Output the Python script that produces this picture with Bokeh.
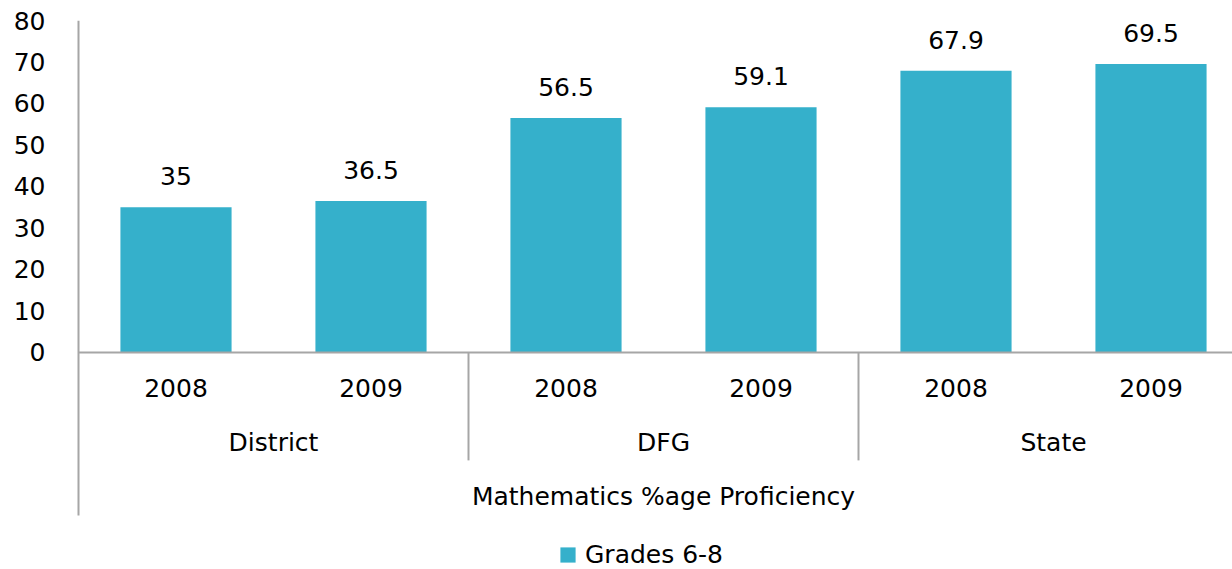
from bokeh.plotting import figure
from bokeh.models import Range1d, FixedTicker, Legend, LegendItem
from bokeh.embed import file_html
from bokeh.resources import INLINE
from bokeh.core.properties import value

# ---- data ----
groups = ["District", "DFG", "State"]
years = ["2008", "2009"]
proficiency = [35, 36.5, 56.5, 59.1, 67.9, 69.5]
axis_title = "Mathematics %age Proficiency"
series_name = "Grades 6-8"
y_ticks = [0, 10, 20, 30, 40, 50, 60, 70, 80]

# ---- style ----
FONT = "DejaVu Sans"
FS = "25px"
BAR = "#35B0CB"
LINE = "#A6A6A6"
Y_BOTTOM = -52.29  # frame extends below the axis for the category rows and legend

ny = len(years)
xs = [gi * ny + yi + 0.5 for gi in range(len(groups)) for yi in range(ny)]
year_labels = [y for g in groups for y in years]
group_x = [gi * ny + ny / 2 for gi in range(len(groups))]
sep_x = [gi * ny for gi in range(1, len(groups))]
total = len(groups) * ny

p = figure(width=1232, height=569, output_backend="svg", toolbar_location=None,
           x_range=Range1d(-8 / 195, 1154 / 195), y_range=Range1d(Y_BOTTOM, 80),
           x_axis_location=None, min_border_left=70, min_border_right=0,
           min_border_top=20, min_border_bottom=0)
p.outline_line_color = None
p.grid.visible = False
p.background_fill_color = "white"

ax = p.yaxis[0]
ax.ticker = FixedTicker(ticks=y_ticks)
ax.axis_line_color = None
ax.major_tick_line_color = None
ax.minor_tick_line_color = None
ax.major_tick_out = 0
ax.major_tick_in = 0
ax.major_label_standoff = 25
ax.major_label_text_font = FONT
ax.major_label_text_font_size = FS
ax.major_label_text_color = "black"

bars = p.vbar(x=xs, top=proficiency, bottom=0, width=0.57, fill_color=BAR, line_color=None)

# value axis line (extends down through the category rows)
p.segment(x0=[0], y0=[y_ticks[-1]], x1=[0], y1=[-39.28], line_color=LINE, line_width=2)
# category axis baseline
p.segment(x0=[0], y0=[0], x1=[total], y1=[0], line_color=LINE, line_width=2)
# group separators
p.segment(x0=sep_x, y0=0, x1=sep_x, y1=-26, line_color=LINE, line_width=2)

txt = dict(text_font=value(FONT), text_font_size=FS, text_color="black",
           text_align="center", text_baseline="alphabetic")
p.text(x=xs, y=proficiency, text=[f"{v:g}" for v in proficiency], y_offset=-31, **txt)
p.text(x=xs, y=[-8.45] * len(xs), text=year_labels, **txt)
p.text(x=group_x, y=[-21.65] * len(group_x), text=groups, **txt)
p.text(x=[total / 2], y=[-34.65], text=[axis_title], **txt)

legend = Legend(items=[LegendItem(label=series_name, renderers=[bars])],
                location=(488, 0), margin=0, padding=0,
                glyph_width=19, glyph_height=19, label_height=19, label_standoff=8,
                label_text_font=FONT, label_text_font_size=FS, label_text_color="black",
                border_line_color=None, background_fill_alpha=0)
p.add_layout(legend)

open("out.html", "w").write(file_html(p, INLINE))
